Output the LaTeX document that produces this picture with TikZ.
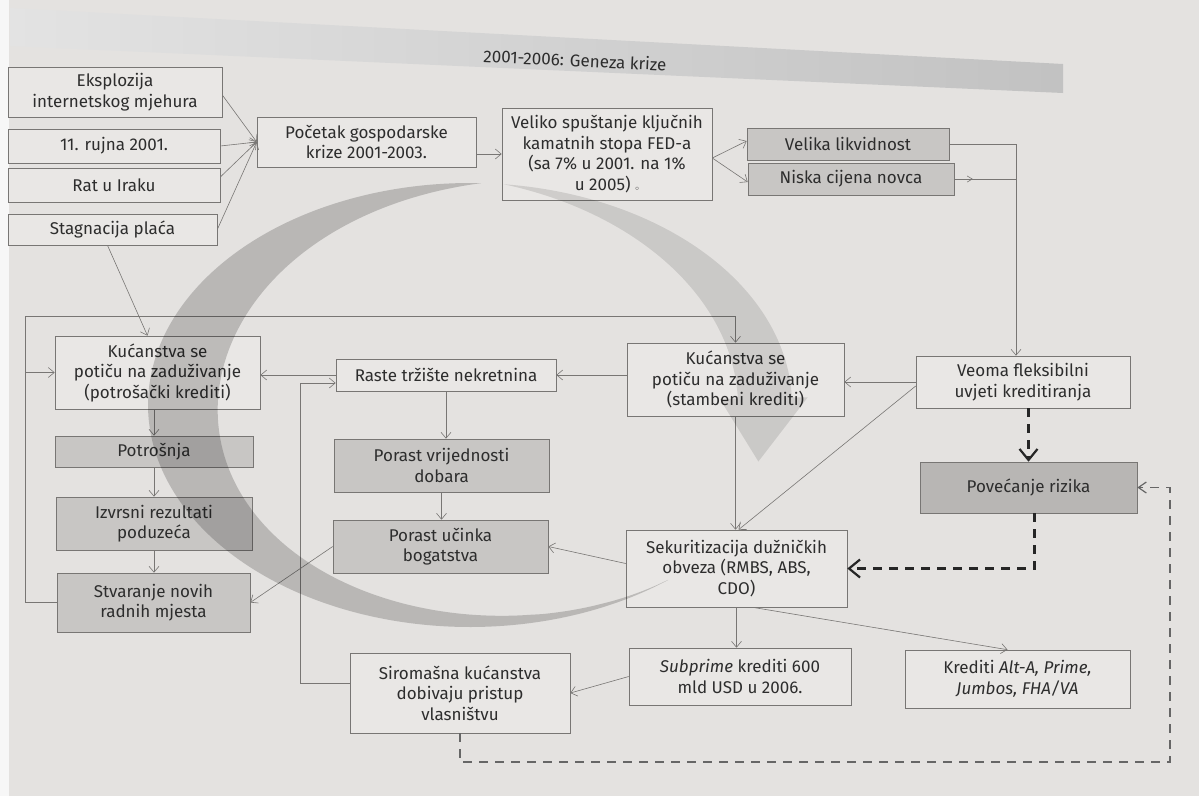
\documentclass[tikz,border=0pt]{standalone}
\usepackage{fontspec}
\setmainfont{Fira Sans}
\usetikzlibrary{arrows.meta,decorations.markings,calc}
\definecolor{bgc}{RGB}{228,226,224}
\definecolor{wfill}{RGB}{233,231,229}
\definecolor{gfill}{RGB}{200,198,196}
\definecolor{dfill}{RGB}{184,182,180}
\definecolor{linec}{RGB}{120,118,116}
\definecolor{txt}{RGB}{45,45,45}
\tikzset{
  wbox/.style={draw=linec, line width=0.6pt, fill=wfill, text=txt, align=center, inner sep=2pt,
    font=\fontsize{17}{20.5}\selectfont},
  gbox/.style={wbox, fill=gfill},
  dbox/.style={wbox, fill=dfill},
  conn/.style={draw=linec, line width=0.6pt, -{Straight Barb[length=6pt,width=10pt,line width=0.6pt]}},
  plain/.style={draw=linec, line width=0.6pt},
  bigdash/.style={draw=black!85, line width=2.4pt, dash pattern=on 9pt off 7pt,
    -{Straight Barb[length=11pt,width=18pt,line width=2.2pt]}},
  gdash/.style={draw=black!60, line width=1.3pt, dash pattern=on 9pt off 7pt,
    -{Straight Barb[length=8pt,width=11pt,line width=1.2pt]}},
  midtip/.style={postaction={decorate, decoration={markings,
    mark=at position 0.3 with {\arrow{Straight Barb[length=5pt,width=6pt,line width=0.6pt]}}}}}
}
\begin{document}
\begin{tikzpicture}[x=1pt,y=-1pt]
\useasboundingbox (0,0) rectangle (1199,796);
\fill[bgc] (0,0) rectangle (1199,796);
\fill[black!3] (0,0) rectangle (9,796);
% title band
\shade[left color=black!11, right color=black!24, draw=none]
  (10,8) -- (1063,64) -- (1063,93) -- (10,46) -- cycle;
\node[text=txt, font=\fontsize{17}{19}\selectfont, rotate=-2.8] (title) at (575,60) {2001-2006: Geneza krize};

% nodes
\node[wbox, minimum width=214pt, minimum height=50pt] (e1) at (115,92) {Eksplozija\\internetskog mjehura};
\node[wbox, minimum width=212pt, minimum height=34pt] (e2) at (114,146) {11. rujna 2001.};
\node[wbox, minimum width=212pt, minimum height=34pt] (e3) at (114,185) {Rat u Iraku};
\node[wbox, minimum width=209pt, minimum height=31pt] (e4) at (112.5,229.5) {Stagnacija plaća};
\node[wbox, minimum width=219pt, minimum height=50pt] (poc) at (366.5,142) {Početak gospodarske\\krize 2001-2003.};
\node[wbox, minimum width=210pt, minimum height=92pt] (fed) at (607,154) {Veliko spuštanje ključnih\\kamatnih stopa FED-a\\(sa 7\% u 2001. na 1\%\\u 2005) {\scriptsize$\circ$}};
\node[gbox, minimum width=202pt, minimum height=32pt] (lik) at (848,144) {Velika likvidnost};
\node[gbox, minimum width=206pt, minimum height=32pt] (nis) at (851,179) {Niska cijena novca};
\node[wbox, minimum width=205pt, minimum height=73pt] (kp) at (157.5,372.5) {Kućanstva se\\potiču na zaduživanje\\(potrošački krediti)};
\node[wbox, minimum width=220pt, minimum height=32pt] (rt) at (446,375) {Raste tržište nekretnina};
\node[wbox, minimum width=217pt, minimum height=73pt] (ks) at (735.5,379.5) {Kućanstva se\\potiču na zaduživanje\\(stambeni krediti)};
\node[wbox, minimum width=214pt, minimum height=52pt] (veo) at (1023,382) {Veoma fleksibilni\\uvjeti kreditiranja};
\node[gbox, minimum width=198pt, minimum height=31pt] (pot) at (154,451.5) {Potrošnja};
\node[gbox, minimum width=196pt, minimum height=53pt] (izv) at (154,523.5) {Izvrsni rezultati\\poduzeća};
\node[gbox, minimum width=193pt, minimum height=59pt] (stv) at (153.5,602.5) {Stvaranje novih\\radnih mjesta};
\node[gbox, minimum width=215pt, minimum height=53pt] (pvd) at (441.5,465.5) {Porast vrijednosti\\dobara};
\node[gbox, minimum width=215pt, minimum height=53pt] (puc) at (440.5,546.5) {Porast učinka\\bogatstva};
\node[dbox, minimum width=217pt, minimum height=51pt] (pr) at (1028.5,487.5) {Povećanje rizika};
\node[wbox, minimum width=221pt, minimum height=77pt] (sek) at (736.5,568.5) {Sekuritizacija dužničkih\\obveza (RMBS, ABS,\\CDO)};
\node[wbox, minimum width=222pt, minimum height=57pt] (sub) at (740,676.5) {\textit{Subprime} krediti 600\\mld USD u 2006.};
\node[wbox, minimum width=225pt, minimum height=58pt] (kr) at (1017.5,679) {Krediti \textit{Alt-A, Prime,}\\\textit{Jumbos, FHA/VA}};
\node[wbox, minimum width=220pt, minimum height=80pt] (sir) at (460,693) {Siromašna kućanstva\\dobivaju pristup\\vlasništvu};

% helper coordinates
\coordinate (L) at (25,316);
\coordinate (R) at (300,383);
\coordinate (vj) at ([xshift=-7pt]veo.north);
\coordinate (D) at (1170,762);
\coordinate (fo) at ([yshift=-4pt]fed.east);

% connectors
\draw[conn] ([yshift=-3pt]e1.east) -- (poc.west);
\draw[conn] (e2.east) -- (poc.west);
\draw[conn] ([yshift=8pt]e3.east) -- (poc.west);
\draw[conn] (e4.east) -- (poc.west);
\draw[conn] (poc.east |- fed.west) -- (fed.west);
\draw[conn] (fo) -- ([yshift=3pt]lik.west);
\draw[conn] (fo) -- ([yshift=-3pt]nis.west);
\draw[conn] (lik.east) -| (vj);
\draw[plain, midtip] (nis.east) -- (nis.east -| vj);
\draw[conn] ([xshift=-5pt]e4.south) -- ([xshift=-10pt]kp.north);
\draw[conn] (stv.west) -| (L) -| (ks.north);
\draw[conn] (kp.west -| L) -- (kp.west);
\draw[conn] (ks.west |- rt.east) -- (rt.east);
\draw[conn] (rt.west) -- (kp.east |- rt.west);
\draw[conn] (rt.south) -- (rt.south |- pvd.north);
\draw[conn] (pvd.south) -- (pvd.south |- puc.north);
\draw[conn] (puc.west) -- (stv.east);
\draw[conn] (pot.north |- kp.south) -- (pot.north);
\draw[conn] (pot.south) -- (pot.south |- izv.north);
\draw[conn] (izv.south) -- (izv.south |- stv.north);
\draw[conn] (veo.west) -- (ks.east |- veo.west);
\draw[conn] ([yshift=-4pt]veo.west) -- ([xshift=2pt]sek.north);
\draw[conn] (ks.south) -- (ks.south |- sek.north);
\draw[conn] ([yshift=5pt]sek.west) -- (puc.east);
\draw[conn] (sek.south) -- (sek.south |- sub.north);
\draw[conn] ([xshift=16pt]sek.south) -- ([xshift=-10pt]kr.north);
\draw[conn] (sub.west) -- (sir.east);
\draw[conn] ([yshift=10pt]sir.west) -| (R) -- (R -| rt.west);
\draw[bigdash] (pr.north |- veo.south) -- (pr.north);
\draw[bigdash] ([xshift=6pt]pr.south) |- (sek.east);
\draw[gdash] (sir.south) |- (D) |- (pr.east);

% circular arrows watermark
\fill[black, fill opacity=0.19]
  plot[domain=272:52, samples=100, smooth] ({470+322*cos(\x)}, {405+222*sin(\x)})
  -- plot[domain=52:272, samples=100, smooth]
     ({470+(322-70*sin(180*pow((\x-50)/222,1.4)))*cos(\x)}, {405+(222-44*sin(180*pow((\x-50)/222,1.4)))*sin(\x)})
  -- cycle;
\fill[black, fill opacity=0.11]
  plot[domain=276:358, samples=60, smooth] ({470+322*cos(\x)}, {405+222*sin(\x)})
  -- ({470+338*cos(358)}, {405+222*sin(358)})
  -- ({470+300*cos(16)}, {405+205*sin(16)})
  -- ({470+250*cos(358)}, {405+172*sin(358)})
  -- plot[domain=358:276, samples=60, smooth]
     ({470+(322-54*sin((\x-276)*1.0976))*cos(\x)}, {405+(222-40*sin((\x-276)*1.0976))*sin(\x)})
  -- cycle;
\end{tikzpicture}
\end{document}
